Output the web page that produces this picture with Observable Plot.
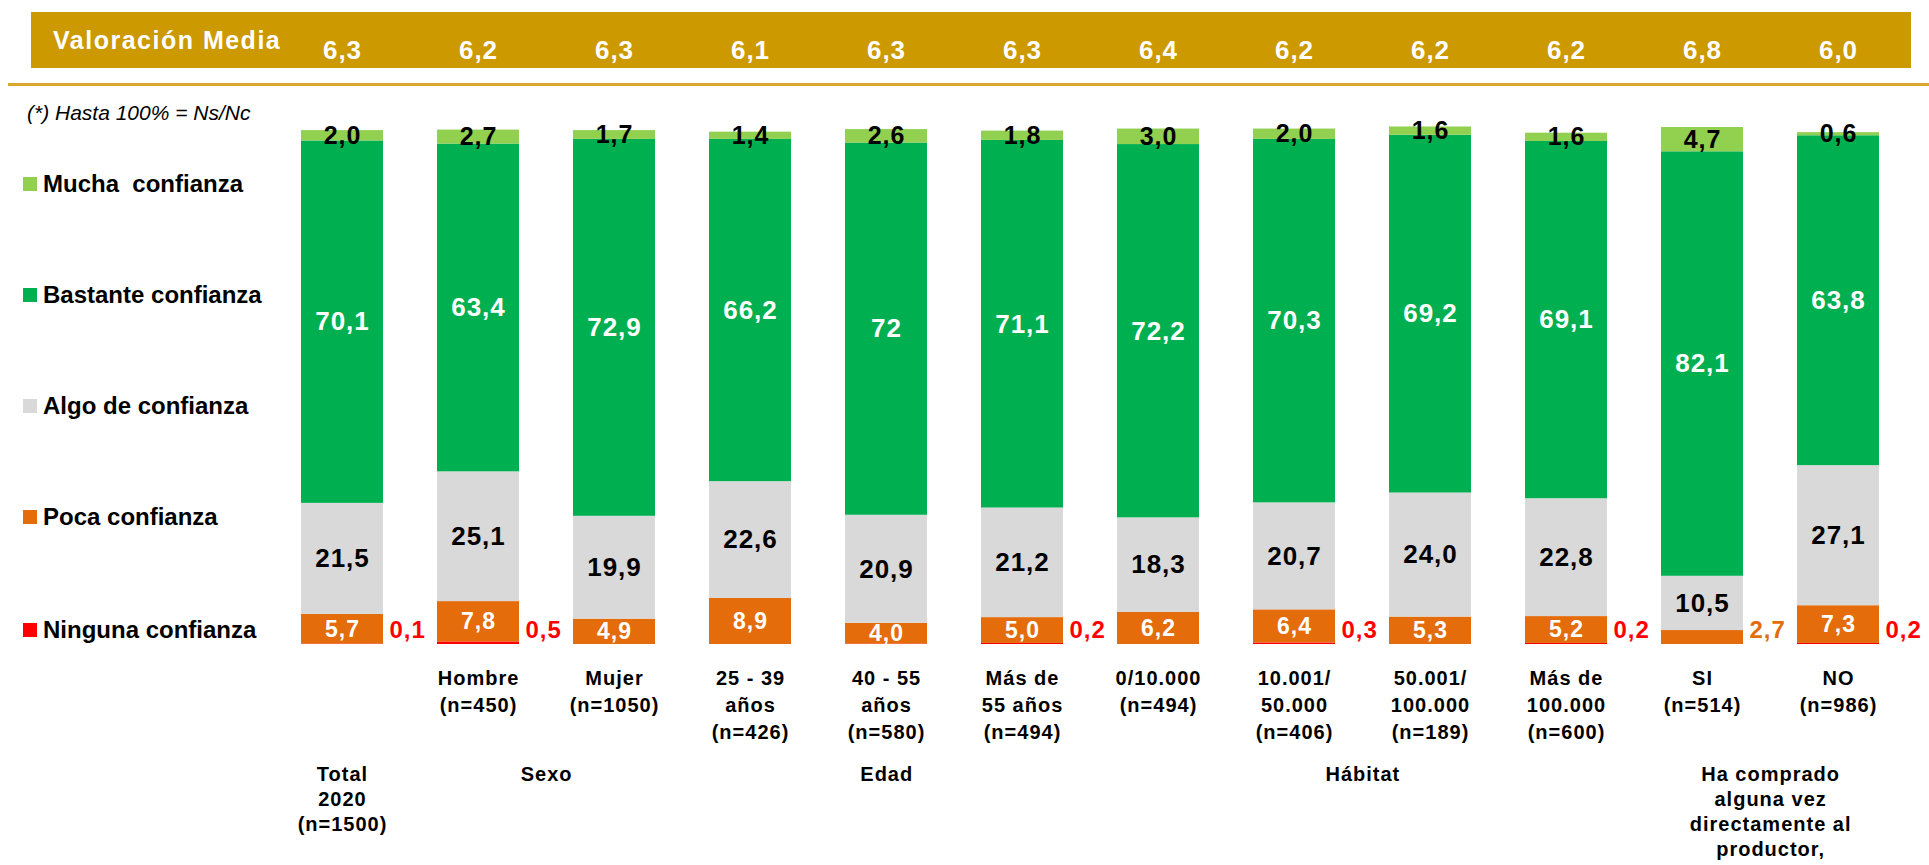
<!DOCTYPE html>
<html><head><meta charset="utf-8">
<script src="https://cdn.jsdelivr.net/npm/d3@7"></script>
<script src="https://cdn.jsdelivr.net/npm/@observablehq/plot@0.6"></script>
<style>
body{margin:0;background:#fff;font-family:"Liberation Sans",Arial,sans-serif;}
#wrap{position:relative;width:1929px;height:865px;overflow:hidden;background:#fff;}
#hdr{position:absolute;left:31px;top:12px;width:1880px;height:56px;background:#CC9900;z-index:0;}
#hdrTitle{position:absolute;left:53px;top:12px;height:56px;line-height:56px;color:#fff;font-weight:bold;font-size:25px;letter-spacing:1.5px;z-index:2;}
#rule{position:absolute;left:8px;right:0;top:83px;height:3px;background:#D9A62E;}
#note{position:absolute;left:27px;top:101px;font-style:italic;font-size:21px;color:#000;z-index:2;}
.leg{position:absolute;left:23px;height:30px;display:flex;align-items:center;font-weight:bold;font-size:24px;color:#000;z-index:2;white-space:pre;}
.sw{width:14px;height:14px;margin-right:6px;}
#chart{position:absolute;left:0;top:0;z-index:1;}
</style></head>
<body>
<div id="wrap">
  <div id="hdr"></div>
  <div id="hdrTitle">Valoración Media</div>
  <div id="rule"></div>
  <div id="note">(*) Hasta 100% = Ns/Nc</div>
  <div id="chart"></div>
</div>
<script>
// ---------- data ----------
const categories = ["Total 2020","Hombre","Mujer","25 - 39 años","40 - 55 años","Más de 55 años","0/10.000","10.001/50.000","50.001/100.000","Más de 100.000","SI","NO"];
const tickLabels = ["","Hombre\n(n=450)","Mujer\n(n=1050)","25 - 39\naños\n(n=426)","40 - 55\naños\n(n=580)","Más de\n55 años\n(n=494)","0/10.000\n(n=494)","10.001/\n50.000\n(n=406)","50.001/\n100.000\n(n=189)","Más de\n100.000\n(n=600)","SI\n(n=514)","NO\n(n=986)"];
const valoracionMedia = [6.3,6.2,6.3,6.1,6.3,6.3,6.4,6.2,6.2,6.2,6.8,6.0];
const seriesNames = ["Ninguna confianza","Poca confianza","Algo de confianza","Bastante confianza","Mucha  confianza"];
const seriesColors = ["#FF0000","#E46C0A","#D9D9D9","#00B050","#92D050"];
const ninguna  = [0.1,0.5,0,0,0.1,0.2,0,0.3,0,0.2,0,0.2];
const ningunaLabelled = [true,true,false,false,false,true,false,true,false,true,false,true];
const poca     = [5.7,7.8,4.9,8.9,4.0,5.0,6.2,6.4,5.3,5.2,2.7,7.3];
const algo     = [21.5,25.1,19.9,22.6,20.9,21.2,18.3,20.7,24.0,22.8,10.5,27.1];
const bastante = [70.1,63.4,72.9,66.2,72,71.1,72.2,70.3,69.2,69.1,82.1,63.8];
const mucha    = [2.0,2.7,1.7,1.4,2.6,1.8,3.0,2.0,1.6,1.6,4.7,0.6];
const bastanteDecimals = [1,1,1,1,0,1,1,1,1,1,1,1];
const groupNames = ["Total\n2020\n(n=1500)","Sexo","Edad","Hábitat","Ha comprado\nalguna vez\ndirectamente al\nproductor,"];
const groupMembers = [["Total 2020"],["Hombre","Mujer"],["25 - 39 años","40 - 55 años","Más de 55 años"],["0/10.000","10.001/50.000","50.001/100.000","Más de 100.000"],["SI","NO"]];

// ---------- layout ----------
const W = 1929, H = 865;
const mL = 272, mR = 22, mT = 127, mB = 221;
const padIn = 0.4, padOut = 0.2;
const step = (W - mL - mR) / (categories.length - padIn + 2 * padOut);
const bw = step * (1 - padIn);
const FONT = '"Liberation Sans", Arial, sans-serif';

const fmt = (v, d = 1) => v.toFixed(d).replace(".", ",");
const seriesValues = [ninguna, poca, algo, bastante, mucha];

// long-form table (stack order bottom -> top)
const table = [];
categories.forEach((c, i) => {
  seriesNames.forEach((s, k) => {
    table.push({cat: c, series: s, k, i, value: seriesValues[k][i]});
  });
});

const insideText = k => d => {
  if (d.k !== k) return null;
  if (k === 1 && d.value < 3) return null;
  if (k === 3) return fmt(d.value, bastanteDecimals[d.i]);
  return fmt(d.value);
};

// outside labels (right of bar)
const outside = [];
categories.forEach((c, i) => {
  if (ningunaLabelled[i]) outside.push({cat: c, label: fmt(ninguna[i]), color: seriesColors[0]});
  else if (poca[i] < 3) outside.push({cat: c, label: fmt(poca[i]), color: seriesColors[1]});
});

const ticks = categories.map((c, i) => ({cat: c, label: tickLabels[i]}));
const header = categories.map((c, i) => ({cat: c, label: fmt(valoracionMedia[i])}));

const marks = [
  Plot.barY(table, {x: "cat", y: "value", fill: "series"}),
  Plot.text(table, Plot.stackY({x: "cat", y: "value", text: insideText(4), fill: "#000", fontSize: 25, fontWeight: "bold"})),
  Plot.text(table, Plot.stackY({x: "cat", y: "value", text: insideText(3), fill: "#fff", fontSize: 26, fontWeight: "bold"})),
  Plot.text(table, Plot.stackY({x: "cat", y: "value", text: insideText(2), fill: "#000", fontSize: 26, fontWeight: "bold"})),
  Plot.text(table, Plot.stackY({x: "cat", y: "value", text: insideText(1), fill: "#fff", fontSize: 23, fontWeight: "bold"})),
  Plot.text(outside, {x: "cat", text: "label", fill: d => d.color, frameAnchor: "bottom", textAnchor: "start", dx: bw / 2 + 6, dy: -7, fontSize: 24, fontWeight: "bold"}),
  Plot.text(ticks, {x: "cat", text: "label", frameAnchor: "bottom", lineAnchor: "top", dy: 21, lineHeight: 1.35, fontSize: 20, fontWeight: "bold", fill: "#000"}),
  Plot.text(header, {x: "cat", text: "label", frameAnchor: "top", dy: -87, fill: "#fff", fontSize: 26, fontWeight: "bold"}),
  ...groupNames.map((g, j) => Plot.text([{cat: groupMembers[j][0], label: g}], {
    x: "cat", text: "label", frameAnchor: "bottom", lineAnchor: "top",
    dx: (groupMembers[j].length - 1) / 2 * step, dy: 119, lineHeight: 1.25,
    fontSize: 20, fontWeight: "bold", fill: "#000"
  }))
];

const chart = Plot.plot({
  width: W, height: H,
  marginLeft: mL, marginRight: mR, marginTop: mT, marginBottom: mB,
  x: {domain: categories, paddingInner: padIn, paddingOuter: padOut, axis: null},
  y: {domain: [0, 100], axis: null},
  color: {domain: seriesNames, range: seriesColors},
  style: {background: "transparent", fontFamily: FONT, letterSpacing: "1px", overflow: "visible"},
  marks
});
document.getElementById("chart").appendChild(chart);

// legend (top -> bottom = reverse stack order)
const wrap = document.getElementById("wrap");
const legendCenters = [184, 295, 406, 517, 630];
seriesNames.slice().reverse().forEach((s, j) => {
  const color = seriesColors[seriesNames.length - 1 - j];
  const el = document.createElement("div");
  el.className = "leg";
  el.style.top = (legendCenters[j] - 15) + "px";
  el.innerHTML = `<span class="sw" style="background:${color}"></span><span>${s}</span>`;
  wrap.appendChild(el);
});
</script>
</body></html>
